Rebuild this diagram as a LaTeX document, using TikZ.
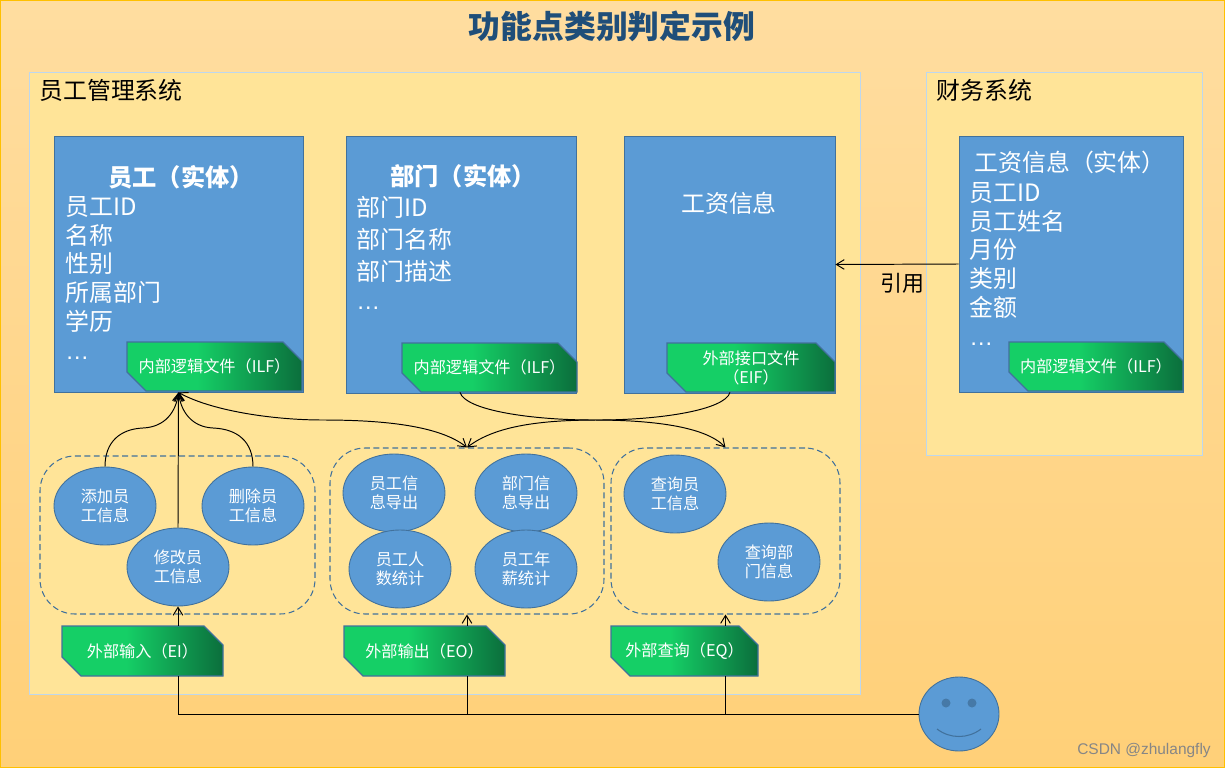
\documentclass[tikz,border=0pt]{standalone}
\usepackage{fontspec}
\setmainfont{Noto Sans CJK SC}
\newfontfamily\latinfont{Liberation Sans}
\usepackage{xcolor}
\usetikzlibrary{
    shapes.geometric,
    arrows.meta,
    positioning
}
\definecolor{boxblue}{HTML}{5B9BD5}
\definecolor{edgeblue}{HTML}{41719C}
\definecolor{tagA}{HTML}{15CF66}
\definecolor{tagB}{HTML}{0B6E3C}
\definecolor{panelfill}{HTML}{FFE498}
\definecolor{paneledge}{HTML}{BDD7EE}
\definecolor{titleblue}{HTML}{1F4E79}
\definecolor{backtop}{HTML}{FFDDA0}
\definecolor{backlow}{HTML}{FFD078}
\definecolor{backedge}{HTML}{FFC000}
\pgfdeclarehorizontalshading{tagfill}{100bp}{
    color(0bp)=(tagA); color(45bp)=(tagA); color(75bp)=(tagB); color(100bp)=(tagB)}
% tag with two cut corners: name, x1, y1, x2, y2, text
\newcommand{\tagbox}[6]{
    \path[shade, shading=tagfill, draw=edgeblue, line width=0.7pt]
        (#2,#3) -- ({#4-19},#3) -- (#4,{#3+19}) -- (#4,#5) -- ({#2+19},#5) -- (#2,{#5-19}) -- cycle;
    \node[tagtext, sized={#4-#2}{#5-#3}] (#1) at ({(#2+#4)/2},{(#3+#5)/2}) {#6};
}
\begin{document}
\begin{tikzpicture}[
    x=0.02cm,
    y=-0.02cm,
    sized/.style 2 args={minimum width=(#1)*0.02cm, minimum height=(#2)*0.02cm},
    panel/.style={rectangle, inner sep=0pt, fill=panelfill, draw=paneledge, line width=0.5pt},
    entity/.style={rectangle, inner sep=0pt, fill=boxblue, draw=edgeblue, line width=0.5pt},
    bigtext/.style={font=\fontsize{13.6}{16.4}\selectfont, text=white, inner sep=0pt},
    tagtext/.style={font=\fontsize{9.2}{10.8}\selectfont, text=white, inner sep=0pt, align=center},
    group/.style={rectangle, inner sep=0pt, draw=edgeblue, line width=0.6pt, rounded corners=0.7cm,
        dash pattern=on 3.4pt off 2pt},
    func/.style={ellipse, inner sep=0pt, sized={102}{78}, fill=boxblue, draw=edgeblue, line width=0.5pt,
        font=\fontsize{9.2}{10.8}\selectfont, text=white, align=center},
    link/.style={-{Straight Barb[length=4.5pt, width=5.5pt]}, black, line width=0.55pt},
    both/.style={{Straight Barb[length=4.5pt, width=5.5pt]}-{Straight Barb[length=4.5pt, width=5.5pt]}, black, line width=0.55pt},
    plain/.style={black, line width=0.55pt}
]

\useasboundingbox (0,0) rectangle (1225,768);

% Background
\path[top color=backtop, bottom color=backlow, draw=backedge, line width=1pt]
    (0,0) rectangle (1225,768);

% Title
\node[font=\fontsize{18.1}{22}\selectfont\bfseries, text=titleblue, inner sep=0pt] (title) at (612,26) {功能点类别判定示例};

% ===== Panels =====
\node[panel, sized={831}{622}] (sysEmp) at (444.5,383) {};
\node[panel, sized={276}{383}] (sysFin) at (1064,263.5) {};
\node[font=\fontsize{13.6}{16}\selectfont, anchor=west, inner sep=0pt] (sysEmpLabel) at (39,90) {员工管理系统};
\node[font=\fontsize{13.6}{16}\selectfont, anchor=west, inner sep=0pt] (sysFinLabel) at (936,90) {财务系统};

% ===== Entities =====
\node[entity, sized={249}{256}] (entEmp) at (178.5,264) {};
\node[entity, sized={230}{257}] (entDept) at (461,264.5) {};
\node[entity, sized={211}{257}] (entPay) at (729.5,264.5) {};
\node[entity, sized={224}{256}] (entFin) at (1071,264) {};

\node[bigtext, font=\fontsize{13.8}{16.4}\selectfont\bfseries] (empHead) at (181,177) {员工（实体）};
\node[bigtext, anchor=north west, align=left] (empText) at (65,196) {员工ID\\名称\\性别\\所属部门\\学历};
\node[bigtext, anchor=west] (empDots) at (65,358) {\latinfont …};

\node[bigtext, font=\fontsize{13.8}{16.4}\selectfont\bfseries] (deptHead) at (463,176) {部门（实体）};
\node[bigtext, anchor=west] (deptA) at (356,207) {部门ID};
\node[bigtext, anchor=west] (deptB) at (356,239) {部门名称};
\node[bigtext, anchor=west] (deptC) at (356,271) {部门描述};
\node[bigtext, anchor=west] (deptDots) at (356,308) {\latinfont …};

\node[bigtext] (payHead) at (729,203) {工资信息};

\node[bigtext] (finHead) at (1070,162) {工资信息（实体）};
\node[bigtext, anchor=north west, align=left] (finText) at (969,182) {员工ID\\员工姓名\\月份\\类别\\金额};
\node[bigtext, anchor=west] (finDots) at (969,344) {\latinfont …};

% ===== Tags on entities =====
\tagbox{tagEmp}{127}{342}{302}{391}{内部逻辑文件（ILF）}
\tagbox{tagDept}{402}{343}{577}{392}{内部逻辑文件（ILF）}
\tagbox{tagPay}{667}{343}{835}{392}{外部接口文件\\（EIF）}
\tagbox{tagFin}{1009}{342}{1183}{391}{内部逻辑文件（ILF）}

% ===== Groups =====
\node[group, sized={275}{158}] (grpIn) at (177.5,535) {};
\node[group, sized={274}{166}] (grpOut) at (467,531) {};
\node[group, sized={229}{166}] (grpQry) at (725.5,531) {};

\node[func] (addEmp) at (105,506) {添加员\\工信息};
\node[func] (delEmp) at (253,506) {删除员\\工信息};
\node[func] (editEmp) at (178,567) {修改员\\工信息};
\node[func] (outEmp) at (394,493) {员工信\\息导出};
\node[func] (outDept) at (526,493) {部门信\\息导出};
\node[func] (statEmp) at (400,569) {员工人\\数统计};
\node[func] (statPay) at (526,569) {员工年\\薪统计};
\node[func] (qryEmp) at (675,494) {查询员\\工信息};
\node[func] (qryDept) at (769,562) {查询部\\门信息};

% ===== Bottom tags =====
\tagbox{tagEI}{62}{626}{223}{676}{外部输入（EI）}
\tagbox{tagEO}{344}{626}{505}{676}{外部输出（EO）}
\tagbox{tagEQ}{611}{626}{758}{676}{外部查询（EQ）}

% Person
\node[ellipse, inner sep=0pt, sized={80}{74}, fill=boxblue, draw=edgeblue, line width=0.5pt] (face) at (959,714) {};
\fill[edgeblue!80!boxblue] (946,703) circle (0.09cm);
\fill[edgeblue!80!boxblue] (972,703) circle (0.09cm);
\draw[edgeblue, line width=0.6pt] (937,729) .. controls (950,739) and (968,739) .. (981,729);

% ===== Connectors =====
\draw[link] (addEmp.north) .. controls (105,442) and (120,429) .. (143,428) .. controls (165,427) and (176,412) .. (entEmp.south);
\draw[link] (delEmp.north) .. controls (253,442) and (238,429) .. (213,428) .. controls (192,427) and (181,412) .. (entEmp.south);
\draw[link] (editEmp.north) -- (entEmp.south);

\draw[both] (entEmp.south) .. controls (210,410) and (270,420) .. (323,420) .. controls (385,420) and (440,426) .. (grpOut.north);
\draw[link] (tagDept.south -| 460,0) .. controls (465,410) and (530,420) .. (593,420) .. controls (650,420) and (705,426) .. (grpQry.north);
\draw[link] (tagPay.south -| 730,0) .. controls (725,410) and (660,420) .. (598,420) .. controls (540,420) and (495,426) .. (grpOut.north);

\draw[link] (entFin.west) -- (entPay.east);
\node[font=\fontsize{12.5}{15}\selectfont, inner sep=0pt] (refLabel) at (902,283) {引用};

\draw[link] (editEmp.south |- tagEI.north) -- (editEmp.south);
\draw[link] (grpOut.south |- tagEO.north) -- (grpOut.south);
\draw[link] (grpQry.south |- tagEQ.north) -- (grpQry.south);

\draw[plain] (face.west) -| (tagEI.south -| editEmp.south);
\draw[plain] (tagEO.south -| grpOut.south) -- (grpOut.south |- face.west);
\draw[plain] (tagEQ.south -| grpQry.south) -- (grpQry.south |- face.west);

% Watermark
\node[font=\latinfont\fontsize{8.8}{10}\selectfont, text=gray!95, inner sep=0pt] (mark) at (1144,750) {CSDN @zhulangfly};

\end{tikzpicture}
\end{document}
